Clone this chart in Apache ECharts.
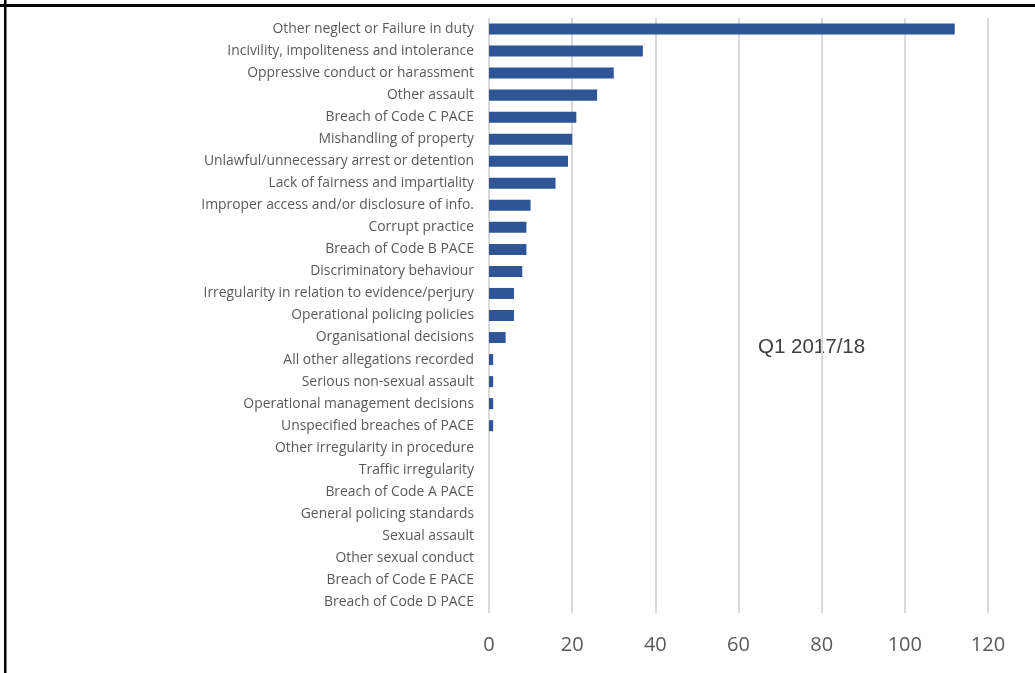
<!DOCTYPE html>
<html>
<head>
<meta charset="utf-8">
<script src="https://cdn.jsdelivr.net/npm/echarts@6/dist/echarts.min.js"></script>
<style>
  html, body { margin: 0; padding: 0; background: #fff; }
  #chart { width: 1035px; height: 673px; }
</style>
</head>
<body>
<div id="chart"></div>
<script>
// Allegation categories, top to bottom
const categories = [
  'Other neglect or Failure in duty',
  'Incivility, impoliteness and intolerance',
  'Oppressive conduct or harassment',
  'Other assault',
  'Breach of Code C PACE',
  'Mishandling of property',
  'Unlawful/unnecessary arrest or detention',
  'Lack of fairness and impartiality',
  'Improper access and/or disclosure of info.',
  'Corrupt practice',
  'Breach of Code B PACE',
  'Discriminatory behaviour',
  'Irregularity in relation to evidence/perjury',
  'Operational policing policies',
  'Organisational decisions',
  'All other allegations recorded',
  'Serious non-sexual assault',
  'Operational management decisions',
  'Unspecified breaches of PACE',
  'Other irregularity in procedure',
  'Traffic irregularity',
  'Breach of Code A PACE',
  'General policing standards',
  'Sexual assault',
  'Other sexual conduct',
  'Breach of Code E PACE',
  'Breach of Code D PACE'
];

// Allegations recorded per category
const allegations = [112, 37, 30, 26, 21, 20, 19, 16, 10, 9, 9, 8, 6, 6, 4, 1, 1, 1, 1, 0, 0, 0, 0, 0, 0, 0, 0];

const periodLabel = 'Q1 2017/18';
const axisMin = 0;
const axisMax = 120;
const axisStep = 20;

const chart = echarts.init(document.getElementById('chart'));
chart.setOption({
  animation: false,
  grid: { left: 489, right: 47, top: 18, bottom: 60, containLabel: false },
  xAxis: {
    type: 'value',
    min: axisMin,
    max: axisMax,
    interval: axisStep,
    axisLine: { show: false },
    axisTick: { show: false },
    splitLine: { lineStyle: { color: '#d9d9d9', width: 2 } },
    axisLabel: {
      color: '#595959',
      fontFamily: 'Open Sans',
      fontSize: 20,
      margin: 22
    }
  },
  yAxis: {
    type: 'category',
    data: categories,
    inverse: true,
    axisLine: { show: false },
    axisTick: { show: false },
    axisLabel: {
      color: '#595959',
      fontFamily: 'Open Sans',
      fontSize: 13.9,
      margin: 15,
      padding: [2, 0, 0, 0]
    }
  },
  series: [{
    type: 'bar',
    data: allegations,
    barCategoryGap: '50%',
    itemStyle: { color: '#2F5597' }
  }],
  graphic: [
    { type: 'rect', shape: { x: 0, y: 4, width: 1035, height: 3 }, style: { fill: '#000' } },
    { type: 'rect', shape: { x: 4, y: 0, width: 2.5, height: 673 }, style: { fill: '#000' } },
    {
      type: 'text', left: 758, top: 337,
      style: { text: periodLabel, fill: '#404040', font: '20.5px "Liberation Sans", Arial, sans-serif' }
    }
  ]
});
</script>
</body>
</html>
